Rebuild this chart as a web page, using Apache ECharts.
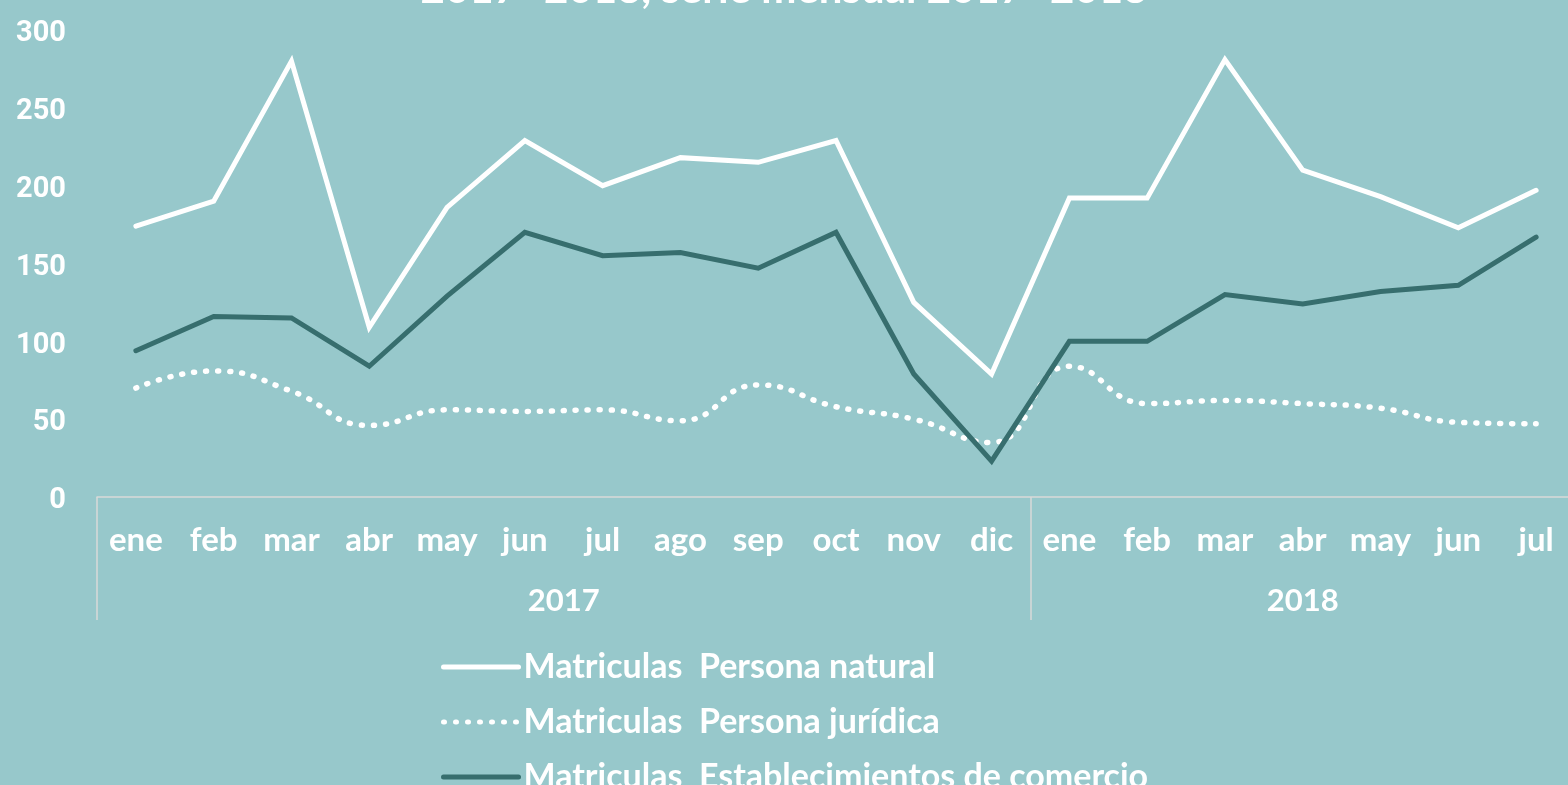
<!DOCTYPE html>
<html>
<head>
<meta charset="utf-8">
<script src="https://cdn.jsdelivr.net/npm/echarts@6/dist/echarts.min.js"></script>
<style>
  html, body { margin: 0; padding: 0; background: #97c8cb; }
  #chart { width: 1568px; height: 785px; }
</style>
</head>
<body>
<div id="chart"></div>
<script>
// months shown on the axis, two years
var meses = ['ene', 'feb', 'mar', 'abr', 'may', 'jun', 'jul', 'ago', 'sep', 'oct', 'nov', 'dic',
             'ene', 'feb', 'mar', 'abr', 'may', 'jun', 'jul'];
var anios = ['2017', '2018'];
var yTicks = [0, 50, 100, 150, 200, 250, 300];

var personaNatural = [174, 190, 280, 109, 186, 229, 200, 218, 215, 229, 125, 79,
                      192, 192, 281, 210, 193, 173, 197];
var personaJuridica = [70, 81, 68, 46, 56, 55, 56, 49, 72, 58, 50, 35,
                       84, 60, 62, 60, 57, 48, 47];
var establecimientos = [94, 116, 115, 84, 129, 170, 155, 157, 147, 170, 79, 23,
                        100, 100, 130, 124, 132, 136, 167];

var nombres = ['Matriculas  Persona natural', 'Matriculas  Persona jurídica', 'Matriculas  Establecimientos de comercio'];

var chart = echarts.init(document.getElementById('chart'));
var txtFont = 'Lato';
var dots = [1, 11];

chart.setOption({
  backgroundColor: '#97c8cb',
  animation: false,
  graphic: [{
    type: 'text',
    left: 'center',
    top: -32,
    style: {
      text: '2017- 2018, serie mensual 2017- 2018',
      fill: '#ffffff',
      font: 'bold 42px Lato'
    }
  }],
  legend: {
    orient: 'vertical',
    left: 436,
    top: 645,
    height: 300,
    itemWidth: 75,
    itemHeight: 34,
    itemGap: 21,
    itemStyle: { opacity: 0 },
    textStyle: {
      color: '#ffffff',
      fontFamily: txtFont,
      fontWeight: 'bold',
      fontSize: 34,
      lineHeight: 34
    },
    data: [
      { name: nombres[0], lineStyle: { color: '#ffffff', width: 5 } },
      { name: nombres[1], lineStyle: { color: '#ffffff', width: 5, type: dots, cap: 'round' } },
      { name: nombres[2], lineStyle: { color: '#376e6e', width: 5 } }
    ]
  },
  grid: {
    left: 97,
    width: 1478,
    top: 30,
    bottom: 288,
    containLabel: false,
    outerBoundsMode: 'none'
  },
  xAxis: [{
    type: 'category',
    data: meses,
    boundaryGap: true,
    axisLine: { lineStyle: { color: '#d9d9d9', width: 1.5 } },
    axisTick: {
      show: true,
      length: 123,
      interval: function (i) { return i === 0 || i === 12; },
      lineStyle: { color: '#d9d9d9', width: 1.5 }
    },
    axisLabel: {
      interval: 0,
      margin: 27,
      color: '#ffffff',
      fontFamily: txtFont,
      fontWeight: 'bold',
      fontSize: 33
    }
  }, {
    type: 'value',
    position: 'bottom',
    min: 0,
    max: 19,
    interval: 0.5,
    axisLine: { show: false },
    axisTick: { show: false },
    splitLine: { show: false },
    axisLabel: {
      margin: 88,
      color: '#ffffff',
      fontFamily: txtFont,
      fontWeight: 'bold',
      fontSize: 31,
      formatter: function (v) {
        if (v === 6) return anios[0];
        if (v === 15.5) return anios[1];
        return '';
      }
    }
  }],
  yAxis: {
    type: 'value',
    min: yTicks[0],
    max: yTicks[yTicks.length - 1],
    interval: 50,
    axisLine: { show: false },
    axisTick: { show: false },
    splitLine: { show: false },
    axisLabel: {
      margin: 31,
      color: '#ffffff',
      formatter: function (v) { return '{n|' + v + '}'; },
      rich: {
        n: {
          color: '#ffffff',
          fontFamily: 'Roboto',
          fontWeight: 'bold',
          fontSize: 29,
          padding: [8, 0, 0, 0]
        }
      }
    }
  },
  series: [{
    name: nombres[0],
    type: 'line',
    data: personaNatural,
    symbol: 'none',
    color: '#ffffff',
    lineStyle: { color: '#ffffff', width: 5, cap: 'round', join: 'miter' }
  }, {
    name: nombres[1],
    type: 'line',
    data: personaJuridica,
    symbol: 'none',
    smooth: 0.5,
    color: '#ffffff',
    lineStyle: { color: '#ffffff', width: 5.5, type: dots, cap: 'round' }
  }, {
    name: nombres[2],
    type: 'line',
    data: establecimientos,
    symbol: 'none',
    color: '#376e6e',
    lineStyle: { color: '#376e6e', width: 5, cap: 'round', join: 'miter' }
  }]
});
</script>
</body>
</html>
